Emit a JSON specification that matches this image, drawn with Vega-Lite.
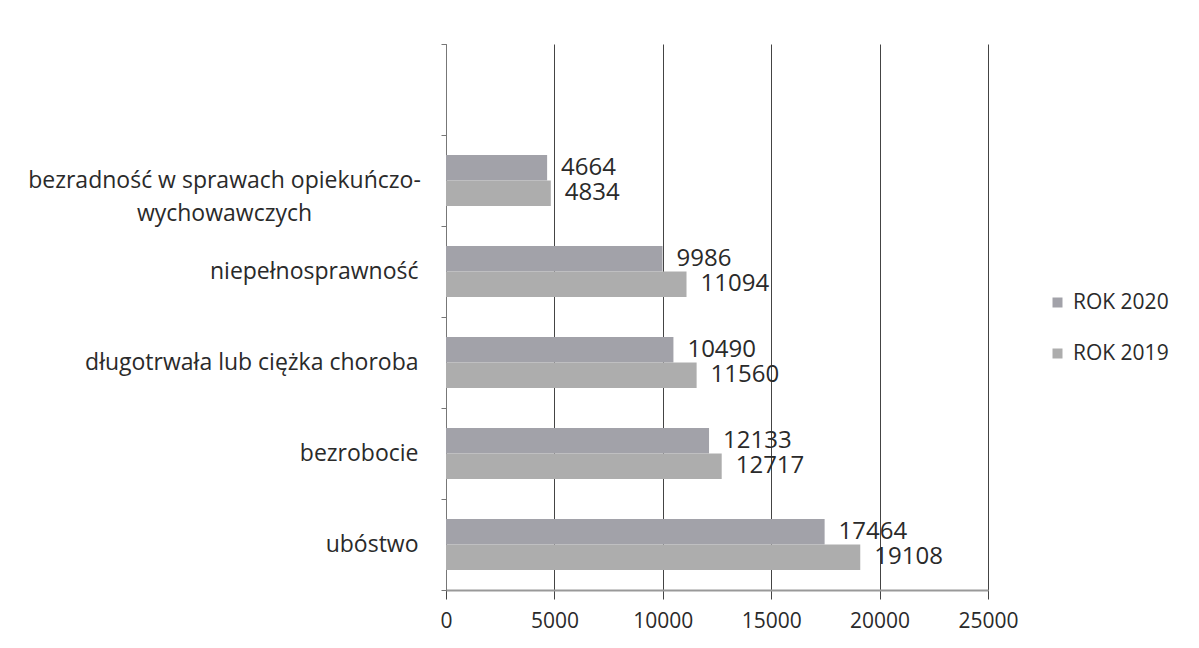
{
  "$schema": "https://vega.github.io/schema/vega-lite/v6.json",
  "width": 542,
  "height": 546,
  "autosize": {"type": "none"},
  "padding": {"left": 446, "top": 44, "right": 211, "bottom": 58},
  "background": "white",
  "config": {
    "view": {"stroke": null},
    "font": "Open Sans, sans-serif"
  },
  "data": {
    "values": [
      {"kategoria": "bezradność w sprawach opiekuńczo-wychowawczych", "rok": "ROK 2020", "wartosc": 4664},
      {"kategoria": "bezradność w sprawach opiekuńczo-wychowawczych", "rok": "ROK 2019", "wartosc": 4834},
      {"kategoria": "niepełnosprawność", "rok": "ROK 2020", "wartosc": 9986},
      {"kategoria": "niepełnosprawność", "rok": "ROK 2019", "wartosc": 11094},
      {"kategoria": "długotrwała lub ciężka choroba", "rok": "ROK 2020", "wartosc": 10490},
      {"kategoria": "długotrwała lub ciężka choroba", "rok": "ROK 2019", "wartosc": 11560},
      {"kategoria": "bezrobocie", "rok": "ROK 2020", "wartosc": 12133},
      {"kategoria": "bezrobocie", "rok": "ROK 2019", "wartosc": 12717},
      {"kategoria": "ubóstwo", "rok": "ROK 2020", "wartosc": 17464},
      {"kategoria": "ubóstwo", "rok": "ROK 2019", "wartosc": 19108}
    ]
  },
  "encoding": {
    "y": {
      "field": "kategoria",
      "type": "nominal",
      "title": null,
      "scale": {
        "domain": [" ", "bezradność w sprawach opiekuńczo-wychowawczych", "niepełnosprawność", "długotrwała lub ciężka choroba", "bezrobocie", "ubóstwo"],
        "paddingInner": 0,
        "paddingOuter": 0
      },
      "axis": {
        "domainColor": "#777",
        "domainWidth": 1,
        "tickColor": "#777",
        "tickSize": 5,
        "tickBand": "extent",
        "tickExtra": true,
        "labelFontSize": 23,
        "labelColor": "#2a2a2a",
        "labelLineHeight": 33,
        "labelLimit": 600,
        "labelPadding": {"condition": {"test": "datum.value == 'bezradność w sprawach opiekuńczo-wychowawczych'", "value": 217}, "value": 23},
        "labelAlign": {"condition": {"test": "datum.value == 'bezradność w sprawach opiekuńczo-wychowawczych'", "value": "center"}, "value": "right"},
        "labelExpr": "datum.value == 'bezradność w sprawach opiekuńczo-wychowawczych' ? ['bezradność w sprawach opiekuńczo-', 'wychowawczych'] : datum.value",
        "grid": false
      }
    },
    "yOffset": {
      "field": "rok",
      "type": "nominal",
      "scale": {"domain": ["ROK 2020", "ROK 2019"], "paddingInner": 0, "paddingOuter": 0.784}
    },
    "x": {
      "field": "wartosc",
      "type": "quantitative",
      "title": null,
      "scale": {"domain": [0, 25000], "nice": false},
      "axis": {
        "values": [0, 5000, 10000, 15000, 20000, 25000],
        "grid": true,
        "gridColor": "#444",
        "gridWidth": 1,
        "domainColor": "#999",
        "domainWidth": 2,
        "tickColor": "#444",
        "tickSize": 9,
        "labelFontSize": 21,
        "labelColor": "#2a2a2a",
        "labelPadding": 11,
        "labelFlush": false,
        "format": "d"
      }
    }
  },
  "layer": [
    {
      "mark": {"type": "bar"},
      "encoding": {
        "color": {
          "field": "rok",
          "type": "nominal",
          "scale": {"domain": ["ROK 2020", "ROK 2019"], "range": ["#a2a2a9", "#adadad"]},
          "legend": {
            "title": null,
            "orient": "none",
            "legendX": 601,
            "legendY": 248,
            "padding": 0,
            "symbolType": "square",
            "symbolSize": 100,
            "symbolStrokeWidth": 0,
            "labelFontSize": 21,
            "labelColor": "#2a2a2a",
            "labelOffset": 5,
            "rowPadding": 29
          }
        }
      }
    },
    {
      "mark": {"type": "text", "align": "left", "baseline": "middle", "dx": 14, "fontSize": 24, "color": "#2a2a2a"},
      "encoding": {
        "text": {"field": "wartosc", "type": "quantitative", "format": "d"}
      }
    }
  ]
}
